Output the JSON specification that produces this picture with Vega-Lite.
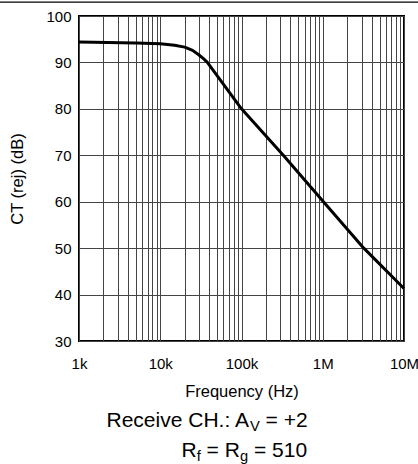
{
  "$schema": "https://vega.github.io/schema/vega-lite/v6.json",
  "autosize": {"type": "none"},
  "width": 325,
  "height": 325,
  "padding": {"left": 79, "top": 16, "right": 14, "bottom": 123},
  "background": "white",
  "config": {
    "font": "Liberation Sans",
    "view": {"stroke": "black", "strokeWidth": 2},
    "axis": {"labelColor": "black", "titleColor": "black", "titleFontWeight": "normal"}
  },
  "data": {
    "values": [
      {"f": 1000, "db": 94.4},
      {"f": 5000, "db": 94.2},
      {"f": 10000, "db": 94.0},
      {"f": 15000, "db": 93.7},
      {"f": 20000, "db": 93.3},
      {"f": 25000, "db": 92.6},
      {"f": 30000, "db": 91.6},
      {"f": 34000, "db": 90.8},
      {"f": 38000, "db": 90.0},
      {"f": 100000, "db": 80.0},
      {"f": 327000, "db": 70.0},
      {"f": 1020000, "db": 60.0},
      {"f": 3200000, "db": 50.0},
      {"f": 10000000, "db": 41.3}
    ]
  },
  "layer": [
    {
      "mark": {"type": "line", "color": "black", "strokeWidth": 3, "interpolate": "linear", "strokeJoin": "round"},
      "encoding": {
        "x": {
          "field": "f", "type": "quantitative",
          "scale": {"type": "log", "domain": [1000, 10000000], "nice": false},
          "axis": {
            "values": [1000,2000,3000,4000,5000,6000,7000,8000,9000,10000,20000,30000,40000,50000,60000,70000,80000,90000,100000,200000,300000,400000,500000,600000,700000,800000,900000,1000000,2000000,3000000,4000000,5000000,6000000,7000000,8000000,9000000,10000000],
            "labelExpr": "datum.value == 1000 ? '1k' : datum.value == 10000 ? '10k' : datum.value == 100000 ? '100k' : datum.value == 1000000 ? '1M' : datum.value == 10000000 ? '10M' : ''",
            "grid": true, "gridColor": "#444444", "gridWidth": 1, "gridOpacity": 1,
            "ticks": false, "domain": false,
            "labelFontSize": 15, "labelPadding": 15, "labelOverlap": false, "labelFlush": false, "labelBound": false,
            "title": "Frequency (Hz)", "titleFontSize": 16.5, "titlePadding": 12
          }
        },
        "y": {
          "field": "db", "type": "quantitative",
          "scale": {"domain": [30, 100], "nice": false, "zero": false},
          "axis": {
            "values": [30,40,50,60,70,80,90,100],
            "grid": true, "gridColor": "#444444", "gridWidth": 1, "gridOpacity": 1,
            "ticks": false, "domain": false,
            "labelFontSize": 15, "labelPadding": 8,
            "title": "CT (rej) (dB)", "titleFontSize": 16.5, "titlePadding": 20
          }
        }
      }
    },
    {
      "data": {"values": [{"from": 100, "to": 100000000}]},
      "mark": {"type": "rule", "color": "black", "strokeWidth": 1.3, "clip": false},
      "encoding": {"x": {"field": "from", "type": "quantitative"}, "x2": {"field": "to"}, "y": {"datum": 103.0}}
    },
    {
      "data": {"values": [{"t": "Receive CH.: A"}]},
      "mark": {"type": "text", "align": "left", "baseline": "alphabetic", "fontSize": 21, "color": "black"},
      "encoding": {"x": {"datum": 2181}, "y": {"datum": 11.48}, "text": {"field": "t"}}
    },
    {
      "data": {"values": [{"t": "V"}]},
      "mark": {"type": "text", "align": "left", "baseline": "alphabetic", "fontSize": 14.7, "dx": 143.5, "color": "black"},
      "encoding": {"x": {"datum": 2181}, "y": {"datum": 10.62}, "text": {"field": "t"}}
    },
    {
      "data": {"values": [{"t": "= +2"}]},
      "mark": {"type": "text", "align": "left", "baseline": "alphabetic", "fontSize": 21, "dx": 159.1, "color": "black"},
      "encoding": {"x": {"datum": 2181}, "y": {"datum": 11.48}, "text": {"field": "t"}}
    },
    {
      "data": {"values": [{"t": "R"}]},
      "mark": {"type": "text", "align": "left", "baseline": "alphabetic", "fontSize": 21, "color": "black"},
      "encoding": {"x": {"datum": 18260}, "y": {"datum": 5.02}, "text": {"field": "t"}}
    },
    {
      "data": {"values": [{"t": "f"}]},
      "mark": {"type": "text", "align": "left", "baseline": "alphabetic", "fontSize": 14.7, "dx": 15.2, "color": "black"},
      "encoding": {"x": {"datum": 18260}, "y": {"datum": 4.15}, "text": {"field": "t"}}
    },
    {
      "data": {"values": [{"t": "= R"}]},
      "mark": {"type": "text", "align": "left", "baseline": "alphabetic", "fontSize": 21, "dx": 25.1, "color": "black"},
      "encoding": {"x": {"datum": 18260}, "y": {"datum": 5.02}, "text": {"field": "t"}}
    },
    {
      "data": {"values": [{"t": "g"}]},
      "mark": {"type": "text", "align": "left", "baseline": "alphabetic", "fontSize": 14.7, "dx": 58.5, "color": "black"},
      "encoding": {"x": {"datum": 18260}, "y": {"datum": 4.15}, "text": {"field": "t"}}
    },
    {
      "data": {"values": [{"t": "= 510"}]},
      "mark": {"type": "text", "align": "left", "baseline": "alphabetic", "fontSize": 21, "dx": 72.5, "color": "black"},
      "encoding": {"x": {"datum": 18260}, "y": {"datum": 5.02}, "text": {"field": "t"}}
    }
  ]
}
